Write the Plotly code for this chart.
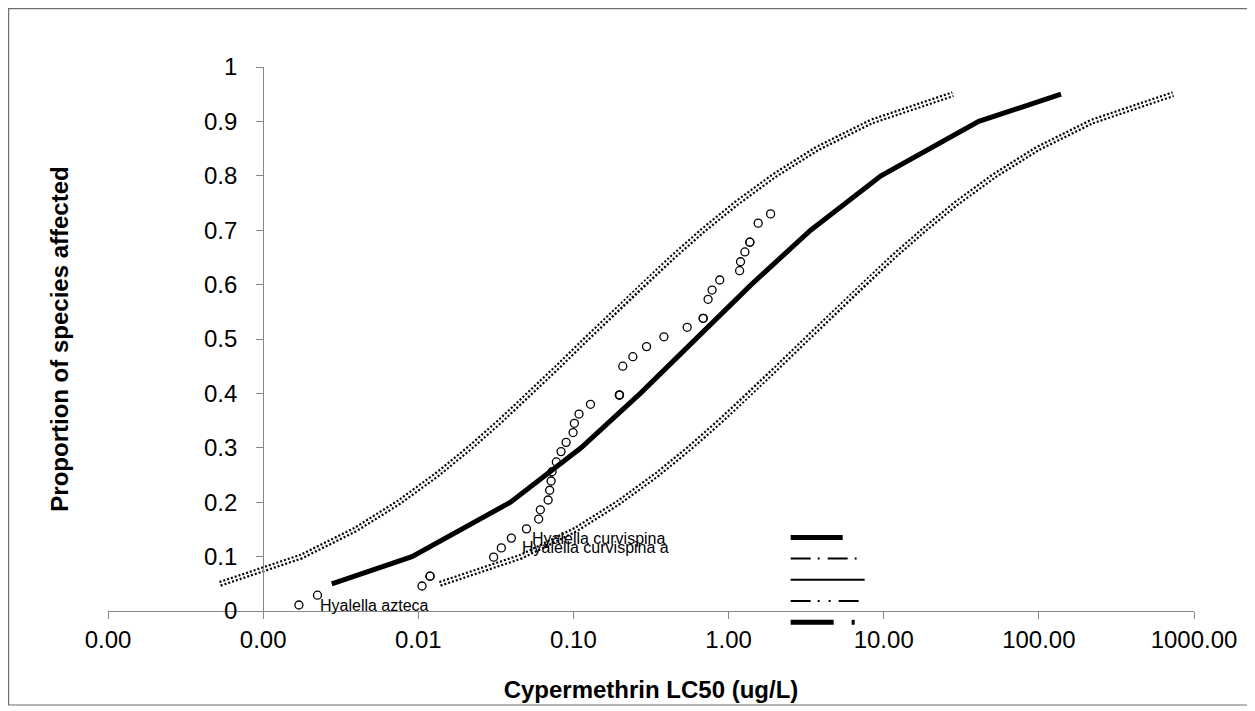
import math
import plotly.graph_objects as go

# ---------------- data ----------------
prob_levels = [0.05, 0.10, 0.15, 0.20, 0.25, 0.30, 0.35, 0.40, 0.45, 0.50,
               0.55, 0.60, 0.65, 0.70, 0.75, 0.80, 0.85, 0.90, 0.95]
upper_ci_x = [0.000528, 0.00176, 0.00395, 0.00752, 0.0131, 0.0215, 0.0340, 0.0525,
              0.0801, 0.121, 0.184, 0.280, 0.434, 0.686, 1.13, 1.96, 3.72, 8.37, 27.9]
lower_ci_x = [0.0138, 0.0461, 0.104, 0.197, 0.343, 0.563, 0.891, 1.38, 2.10, 3.19,
              4.83, 7.36, 11.4, 18.1, 29.6, 51.5, 98.1, 221.0, 733.0]

median_y = [0.05, 0.10, 0.20, 0.30, 0.40, 0.50, 0.60, 0.70, 0.80, 0.90, 0.95]
median_x = [0.00277, 0.0091, 0.0393, 0.112, 0.27, 0.61, 1.40, 3.38, 9.6, 41.0, 139.0]

species_lc50 = [0.0017, 0.00224, 0.01057, 0.0119, 0.0119, 0.0306, 0.0343, 0.0398,
                0.0498, 0.0597, 0.0612, 0.0687, 0.0703, 0.0718, 0.0728, 0.0776,
                0.0832, 0.0897, 0.0995, 0.1014, 0.1086, 0.1288, 0.198, 0.198, 0.198,
                0.208, 0.2415, 0.296, 0.383, 0.541, 0.686, 0.686, 0.738, 0.783,
                0.877, 1.178, 1.194, 1.274, 1.371, 1.371, 1.552, 1.866]
species_prop = [0.011, 0.029, 0.046, 0.064, 0.064, 0.099, 0.116, 0.134,
                0.151, 0.169, 0.186, 0.204, 0.222, 0.239, 0.256, 0.274,
                0.293, 0.310, 0.328, 0.345, 0.362, 0.380, 0.397, 0.397, 0.397,
                0.450, 0.4675, 0.486, 0.504, 0.5215, 0.538, 0.538, 0.573, 0.590,
                0.6085, 0.6256, 0.642, 0.660, 0.678, 0.678, 0.713, 0.730]

labels = ["Hyalella azteca", "Hyalella curvispina a", "Hyalella curvispina"]
label_x = [0.0017, 0.0343, 0.0398]
label_y = [0.011, 0.116, 0.134]

x_tickvals = [0.0001, 0.001, 0.01, 0.1, 1, 10, 100, 1000]
x_ticktext = ["0.00", "0.00", "0.01", "0.10", "1.00", "10.00", "100.00", "1000.00"]

FONT = "Liberation Sans, Arial, sans-serif"
AXIS_GRAY = "#868686"

fig = go.Figure()

# confidence bands (dotted texture: dashed thick line split by thin white line)
for cx in (upper_ci_x, lower_ci_x):
    fig.add_trace(go.Scatter(x=cx, y=prob_levels, mode="lines",
                             line=dict(color="black", width=6, dash="2px,2px"),
                             showlegend=False, hoverinfo="skip"))
    fig.add_trace(go.Scatter(x=cx, y=prob_levels, mode="lines",
                             line=dict(color="white", width=1.6),
                             showlegend=False, hoverinfo="skip"))

# fitted median
fig.add_trace(go.Scatter(x=median_x, y=median_y, mode="lines",
                         line=dict(color="black", width=5),
                         showlegend=False))

# species points
fig.add_trace(go.Scatter(x=species_lc50, y=species_prop, mode="markers",
                         marker=dict(symbol="circle-open", size=8, color="black",
                                     line=dict(width=1.3, color="black")),
                         showlegend=False))

# legend-only entries (no visible text in the reference)
legend_styles = [
    dict(width=5, dash="52px,30px"),
    dict(width=2, dash="20px,7px,2px,8px"),
    dict(width=2, dash="solid"),
    dict(width=2, dash="20px,7px,2px,9px,2px,8px"),
    dict(width=5, dash="43px,18px,3px,20px"),
]
for st in legend_styles:
    fig.add_trace(go.Scatter(x=[None], y=[None], mode="lines", name=" ",
                             line=dict(color="black", **st), showlegend=True))

# data labels (log axis -> annotation x given as log10)
for t, lx, ly in zip(labels, label_x, label_y):
    fig.add_annotation(x=math.log10(lx), y=ly, xref="x", yref="y", text=t,
                       showarrow=False, xanchor="left", yanchor="middle", xshift=19,
                       font=dict(family=FONT, size=16, color="black"))

# outer chart frame
fig.add_shape(type="rect", xref="paper", yref="paper",
              x0=-0.0915, x1=1.0516, y0=-0.1728, y1=1.1074,
              line=dict(color="#6e6e6e", width=1.2), layer="below")

fig.update_layout(
    width=1247, height=703,
    margin=dict(l=100, r=61, t=59, b=100, autoexpand=False),
    paper_bgcolor="white", plot_bgcolor="white",
    font=dict(family=FONT, size=24, color="black"),
    showlegend=True,
    legend=dict(x=0.624, y=0.164, xanchor="left", yanchor="top",
                bgcolor="rgba(0,0,0,0)", font=dict(size=14),
                itemwidth=74, tracegroupgap=0),
    xaxis=dict(type="log", range=[-4, 3], tickvals=x_tickvals, ticktext=x_ticktext,
               automargin=False,
               showgrid=False, zeroline=False, showline=True, linecolor=AXIS_GRAY,
               linewidth=1, ticks="outside", ticklen=7, tickcolor=AXIS_GRAY,
               ticklabelstandoff=0,
               tickfont=dict(family=FONT, size=24, color="black"),
               title=dict(text="<b>Cypermethrin LC50 (ug/L)</b>", standoff=29,
                          font=dict(family=FONT, size=24, color="black"))),
    yaxis=dict(range=[0, 1], dtick=0.1, tick0=0, anchor="free", position=1/7,
               automargin=False,
               showgrid=False, zeroline=False, showline=True, linecolor=AXIS_GRAY,
               linewidth=1, ticks="outside", ticklen=7, tickcolor=AXIS_GRAY,
               ticklabelstandoff=14,
               tickfont=dict(family=FONT, size=24, color="black"),
               title=dict(text="<b>Proportion of species affected</b>", standoff=127,
                          font=dict(family=FONT, size=24, color="black"))),
)

fig.write_html("out.html")
